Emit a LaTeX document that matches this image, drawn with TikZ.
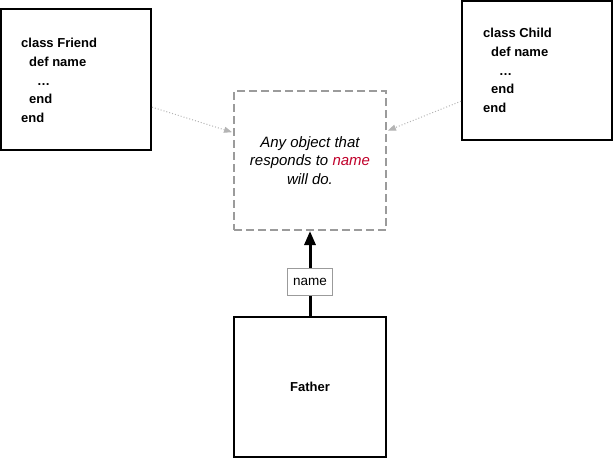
\documentclass[tikz,border=0pt]{standalone}
\usepackage{fontspec}
\setmainfont{Liberation Sans}
\usetikzlibrary{arrows.meta}
\definecolor{dashgray}{HTML}{9B9B9B}
\definecolor{dotgray}{HTML}{B4B4B4}
\definecolor{namered}{HTML}{C0002A}
\tikzset{
  classbox/.style={draw, line width=2pt, minimum width=150pt, minimum height=140pt, inner sep=0pt},
  codetext/.style={font=\fontsize{13}{18.8}\selectfont\bfseries, align=left, inner sep=0pt, anchor=north west},
  anybox/.style={draw=dashgray, line width=2pt, dash pattern=on 8pt off 4pt, minimum width=152pt, minimum height=139pt,
    font=\fontsize{15}{18.5}\selectfont\itshape, align=center},
  duck/.style={draw=dotgray, line width=1pt, dash pattern=on 1pt off 2pt, -{Triangle[length=8pt,width=6pt,fill=dotgray,sep=1pt]}}
}
\begin{document}
\begin{tikzpicture}[x=1pt,y=-1pt]
\useasboundingbox (0,0) rectangle (616,458);
% classes that respond to name
\node[classbox, minimum height=141pt] (friend) at (76,79.5) {};
\node[codetext] (friendcode) at (21,37.8) {class Friend\\\hspace{8pt}def name\\\hspace{16pt}\ldots\\\hspace{8pt}end\\end};
\node[classbox, minimum height=139pt] (child) at (537,70.5) {};
\node[codetext] (childcode) at (483,27.8) {class Child\\\hspace{8pt}def name\\\hspace{16pt}\ldots\\\hspace{8pt}end\\end};
% the duck type
\node[anybox] (any) at (310,160.5) {Any object that\\responds to \textcolor{namered}{name}\\will do.};
\node[classbox, minimum width=152pt, font=\fontsize{13}{16}\selectfont\bfseries] (father) at (310,387) {Father};
\draw[line width=3pt, -{Triangle[length=14pt,width=11pt]}] (father) -- node[pos=0.4, draw=dashgray, line width=1pt, fill=white,
  minimum width=45pt, minimum height=27pt, inner sep=0pt, font=\fontsize{13.5}{16}\selectfont] (msg) {name} (any);
\draw[duck] (friend.-20) -- (any.160);
\draw[duck] (child.202) -- (any.21);
\end{tikzpicture}
\end{document}
